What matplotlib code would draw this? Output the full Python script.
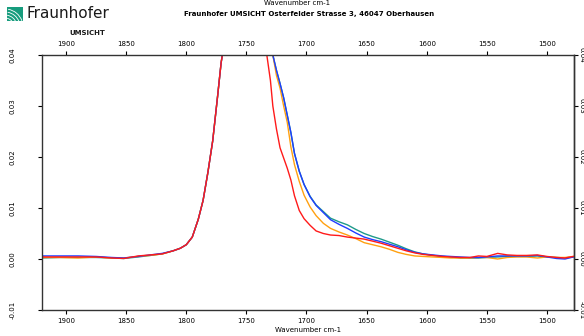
import matplotlib
matplotlib.use("Agg")
import matplotlib.pyplot as plt
from matplotlib.patches import Rectangle, Arc

wavenumber = [1920, 1905, 1890, 1875, 1862, 1852, 1840, 1830, 1820, 1811, 1805, 1800,
              1795, 1790, 1786, 1782, 1778, 1774, 1771, 1770, 1750, 1735, 1733, 1730,
              1728, 1725, 1722, 1719, 1716, 1713, 1710, 1706, 1702, 1697, 1692, 1686,
              1680, 1673, 1666, 1659, 1652, 1645, 1638, 1631, 1624, 1617, 1610, 1603,
              1595, 1587, 1580, 1572, 1564, 1557, 1550, 1541, 1533, 1525, 1517, 1508,
              1500, 1492, 1485, 1478]

rise = [0.0016, 0.0021, 0.0028, 0.0043, 0.0078, 0.0115, 0.0170, 0.0232, 0.0318, 0.0385,
        0.04, 0.04, 0.04]

blue = ([0.0006, 0.0006, 0.0006, 0.0005, 0.0003, 0.0002, 0.0005, 0.0008, 0.0011] + rise +
        [0.04, 0.04, 0.04, 0.0370, 0.0344, 0.0316, 0.0282, 0.0248, 0.0207, 0.0172, 0.0146,
         0.0122, 0.0105, 0.0091, 0.0077, 0.0068, 0.0060, 0.0051, 0.0043, 0.0038, 0.0034,
         0.0029, 0.0024, 0.0018, 0.0013, 0.0010, 0.0008, 0.0006, 0.0005, 0.0004, 0.0003,
         0.0003, 0.0004, 0.0006, 0.0006, 0.0006, 0.0006, 0.0007, 0.0004, 0.0001, 0.0000,
         0.0004])
green = ([0.0002, 0.0003, 0.0003, 0.0003, 0.0002, 0.0001, 0.0004, 0.0007, 0.0010] + rise +
         [0.04, 0.04, 0.04, 0.0370, 0.0344, 0.0316, 0.0282, 0.0248, 0.0207, 0.0172, 0.0146,
          0.0123, 0.0106, 0.0093, 0.0080, 0.0073, 0.0067, 0.0058, 0.0050, 0.0044, 0.0039,
          0.0033, 0.0027, 0.0020, 0.0014, 0.0010, 0.0007, 0.0005, 0.0004, 0.0002, 0.0002,
          0.0002, 0.0003, 0.0004, 0.0005, 0.0005, 0.0005, 0.0006, 0.0004, 0.0003, 0.0002,
          0.0004])
orange = ([0.0003, 0.0003, 0.0002, 0.0004, 0.0002, 0.0002, 0.0005, 0.0007, 0.0010] + rise +
          [0.04, 0.04, 0.04, 0.0360, 0.0335, 0.0300, 0.0268, 0.0220, 0.0185, 0.0152, 0.0125,
           0.0102, 0.0085, 0.0070, 0.0060, 0.0053, 0.0047, 0.0040, 0.0032, 0.0028, 0.0024,
           0.0019, 0.0013, 0.0009, 0.0006, 0.0005, 0.0004, 0.0003, 0.0002, 0.0002, 0.0002,
           0.0003, 0.0003, 0.0000, 0.0003, 0.0004, 0.0004, 0.0002, 0.0004, 0.0003, 0.0003,
           0.0005])
red = ([0.0004, 0.0004, 0.0004, 0.0004, 0.0002, 0.0001, 0.0006, 0.0008, 0.0010] + rise +
       [0.04, 0.0350, 0.0300, 0.0255, 0.0218, 0.0198, 0.0178, 0.0155, 0.0124, 0.0095, 0.0079,
        0.0066, 0.0055, 0.0050, 0.0047, 0.0046, 0.0043, 0.0041, 0.0039, 0.0035, 0.0031,
        0.0026, 0.0021, 0.0016, 0.0012, 0.0009, 0.0007, 0.0005, 0.0004, 0.0003, 0.0003,
        0.0006, 0.0005, 0.0011, 0.0008, 0.0007, 0.0007, 0.0008, 0.0005, 0.0003, 0.0002,
        0.0005])

series = [(green, "#1f9a8a"), (orange, "#ffa010"), (blue, "#1f3cff"), (red, "#ff1a1a")]
xticks = [1900, 1850, 1800, 1750, 1700, 1650, 1600, 1550, 1500]
yticks = [-0.01, 0.0, 0.01, 0.02, 0.03, 0.04]
ylabels = [f"{t:.2f}" for t in yticks]

fig = plt.figure(figsize=(5.84, 3.36), dpi=100)
ax = fig.add_axes([42 / 584, 26 / 336, 532 / 584, 255 / 336])
for values, color in series:
    ax.plot(wavenumber, values, color=color, lw=1.0)

ax.set_xlim(1920, 1477.5)
ax.set_ylim(-0.01, 0.04)
ax.set_xticks(xticks)
ax.set_xticklabels([str(t) for t in xticks])
ax.tick_params(axis="x", top=True, labeltop=True, labelsize=5, length=3, width=0.8,
               direction="out", pad=3)
ax.set_yticks(yticks)
ax.set_yticklabels(ylabels, rotation=90, va="center")
ax.tick_params(axis="y", labelsize=5, length=3, width=0.8, direction="out", pad=16)

sec = ax.secondary_yaxis("right")
sec.set_yticks(yticks)
sec.set_yticklabels(ylabels, rotation=270, va="center")
sec.tick_params(labelsize=5, length=3, width=0.8, direction="out", pad=0.5)
sec.spines["right"].set_linewidth(1.0)
sec.spines["right"].set_color("#333333")

for sp in ax.spines.values():
    sp.set_linewidth(1.0)
    sp.set_color("#333333")

ax.set_xlabel("Wavenumber cm-1", fontsize=5, labelpad=2)
fig.text(297 / 584, 1.0, "Wavenumber cm-1", fontsize=5, ha="center", va="top")
fig.text(309 / 584, 1 - 14 / 336, "Fraunhofer UMSICHT Osterfelder Strasse 3, 46047 Oberhausen",
         fontsize=5, fontweight="bold", ha="center", va="center")

# logo
lax = fig.add_axes([7 / 584, 1 - 21 / 336, 16 / 584, 14 / 336])
lax.set_xlim(0, 16)
lax.set_ylim(0, 14)
lax.axis("off")
lax.add_patch(Rectangle((0, 0), 16, 14, color="#179c7d"))
for r in [6, 9, 12, 15, 18]:
    lax.add_patch(Arc((-2, -6), 2 * r, 2 * r, theta1=20, theta2=80, color="white", lw=0.6))
fig.text(27 / 584, 1 - 14 / 336, "Fraunhofer", fontsize=11, color="#1a1a1a",
         ha="left", va="center")
fig.text(105 / 584, 1 - 33 / 336, "UMSICHT", fontsize=5, fontweight="bold", color="#1a1a1a",
         ha="right", va="center")

fig.savefig("out.png", dpi=100)
